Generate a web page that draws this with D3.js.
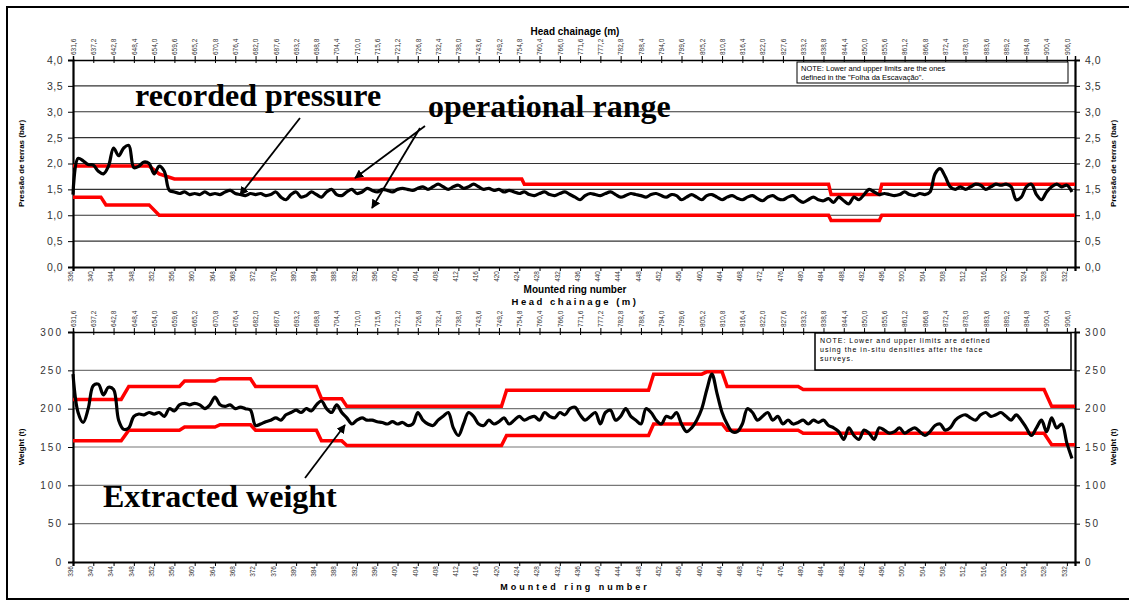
<!DOCTYPE html>
<html><head><meta charset="utf-8">
<script src="https://cdn.jsdelivr.net/npm/d3@7"></script>
<style>body{margin:0;background:#fff}svg{display:block}</style>
</head><body>
<script>
// ---------- DATA ----------
const ringTicks = [336,340,344,348,352,356,360,364,368,372,376,380,384,388,392,396,400,404,408,412,416,420,424,428,432,436,440,444,448,452,456,460,464,468,472,476,480,484,488,492,496,500,504,508,512,516,520,524,528,532];
const chainageTicks = ["631,6","637,2","642,8","648,4","654,0","659,6","665,2","670,8","676,4","682,0","687,6","693,2","698,8","704,4","710,0","715,6","721,2","726,8","732,4","738,0","743,6","749,2","754,8","760,4","766,0","771,6","777,2","782,8","788,4","794,0","799,6","805,2","810,8","816,4","822,0","827,6","833,2","838,8","844,4","850,0","855,6","861,2","866,8","872,4","878,0","883,6","889,2","894,8","900,4","906,0"];
const pressureTicks = [0,0.5,1,1.5,2,2.5,3,3.5,4];
const weightTicks = [0,50,100,150,200,250,300];

const pressureRings = [336,337,338,339,340,341,342,343,344,345,346,347,348,349,350,351,352,353,354,355,356,357,358,359,360,361,362,363,364,365,366,367,368,369,370,371,372,373,374,375,376,377,378,379,380,381,382,383,384,385,386,387,388,389,390,391,392,393,394,395,396,397,398,399,400,401,402,403,404,405,406,407,408,409,410,411,412,413,414,415,416,417,418,419,420,421,422,423,424,425,426,427,428,429,430,431,432,433,434,435,436,437,438,439,440,441,442,443,444,445,446,447,448,449,450,451,452,453,454,455,456,457,458,459,460,461,462,463,464,465,466,467,468,469,470,471,472,473,474,475,476,477,478,479,480,481,482,483,484,485,486,487,488,489,490,491,492,493,494,495,496,497,498,499,500,501,502,503,504,505,506,507,508,509,510,511,512,513,514,515,516,517,518,519,520,521,522,523,524,525,526,527,528,529,530,531,532,533];
const pressureValues = [1.40,2.10,2.05,1.98,1.97,1.85,1.80,1.95,2.30,2.15,2.30,2.35,1.92,1.95,2.03,2.00,1.80,1.95,1.85,1.48,1.45,1.42,1.45,1.40,1.42,1.40,1.45,1.40,1.42,1.40,1.45,1.48,1.42,1.40,1.38,1.42,1.40,1.42,1.38,1.40,1.45,1.35,1.30,1.40,1.45,1.35,1.38,1.45,1.40,1.35,1.45,1.50,1.40,1.38,1.45,1.50,1.42,1.45,1.52,1.48,1.45,1.50,1.48,1.45,1.50,1.52,1.50,1.48,1.52,1.55,1.50,1.55,1.60,1.55,1.50,1.55,1.58,1.52,1.55,1.60,1.55,1.50,1.52,1.48,1.50,1.45,1.48,1.45,1.42,1.45,1.40,1.38,1.42,1.45,1.40,1.38,1.42,1.45,1.40,1.35,1.30,1.38,1.42,1.40,1.38,1.42,1.45,1.40,1.35,1.38,1.42,1.40,1.38,1.35,1.40,1.42,1.38,1.35,1.40,1.38,1.30,1.35,1.40,1.35,1.30,1.38,1.40,1.35,1.30,1.35,1.38,1.33,1.30,1.35,1.38,1.32,1.28,1.35,1.38,1.32,1.30,1.35,1.38,1.30,1.25,1.30,1.35,1.30,1.28,1.32,1.25,1.35,1.28,1.22,1.35,1.30,1.40,1.50,1.45,1.40,1.42,1.40,1.38,1.40,1.45,1.40,1.38,1.42,1.40,1.45,1.80,1.90,1.75,1.55,1.50,1.55,1.50,1.55,1.60,1.58,1.50,1.55,1.60,1.58,1.60,1.55,1.30,1.35,1.55,1.60,1.40,1.30,1.45,1.55,1.60,1.55,1.58,1.45];

const pUpperRings = [336,351,353,356,424.5,425,485,485.5,495,495.5,533.6];
const pUpperValues = [1.95,1.95,1.80,1.70,1.70,1.60,1.60,1.40,1.40,1.60,1.60];
const pLowerRings = [336,341.5,342.5,351,353,485,485.5,495,495.5,533.6];
const pLowerValues = [1.35,1.35,1.20,1.20,1.00,1.00,0.90,0.90,1.00,1.00];

const weightRings = pressureRings;
const weightValues = [245,195,182,200,230,232,218,228,225,185,173,175,190,193,192,195,193,195,190,200,197,205,207,205,207,205,200,205,215,205,203,205,200,202,200,198,178,180,183,185,188,185,192,195,198,195,200,197,205,210,200,195,205,195,188,180,185,188,185,185,183,182,180,183,180,182,178,180,195,185,180,178,185,190,195,175,165,180,195,190,180,178,185,180,183,188,180,185,190,185,188,190,185,195,190,188,195,192,200,202,192,185,190,195,180,195,198,185,190,200,190,185,180,200,195,185,180,190,188,195,180,170,175,185,200,225,245,220,195,180,170,170,180,200,195,185,190,195,185,190,180,185,180,182,185,180,185,182,185,178,175,170,160,175,165,160,172,168,160,175,172,168,170,175,168,172,175,170,165,170,178,180,172,175,185,190,192,188,185,192,195,190,192,195,190,185,192,185,175,165,175,185,170,188,175,180,155,135];

const wUpperRings = [336,345.5,347,357,358,364,365,371,372,384,385,389,390,420.5,421.5,449.5,450.5,460,461,464,465,479,480,527.5,529,533.6];
const wUpperValues = [212,212,229,229,236,236,239,239,229,229,213,213,203,203,224,224,245,245,248,248,229,229,225,225,203,203];
const wLowerRings = [336,345.5,347,357,358,364,365,371,372,384,385,389,390,420.5,421.5,449.5,450.5,464,465,479,480,527.5,529,533.6];
const wLowerValues = [158,158,172,172,176,176,179,179,172,172,158,158,152,152,165,165,180,180,172,172,168,168,153,153];

// ---------- DRAW ----------
const W = 1129, H = 605;
const svg = d3.select("body").append("svg").attr("width", W).attr("height", H);
const FONT = "Liberation Sans, Arial, sans-serif";

// outer frame
svg.append("rect").attr("x",7).attr("y",7).attr("width",W+20).attr("height",592)
  .attr("fill","none").attr("stroke","#000").attr("stroke-width",2);

const x = d3.scaleLinear().domain([336,533.6]).range([73,1075]);

function panel(cfg){
  const g = svg.append("g");
  const y = d3.scaleLinear().domain(cfg.domain).range([cfg.y0, cfg.y1]);
  // gridlines
  g.selectAll(".grid").data(cfg.yticks.slice(1,-1)).enter().append("line")
    .attr("x1",73).attr("x2",1075).attr("y1",d=>y(d)).attr("y2",d=>y(d))
    .attr("stroke",cfg.gridColor).attr("stroke-width",1.2);
  // axes
  const left = d3.axisLeft(y).tickValues(cfg.yticks).tickSize(5).tickFormat(cfg.yfmt);
  const right = d3.axisRight(y).tickValues(cfg.yticks).tickSize(5).tickFormat(cfg.yfmt);
  const gl = g.append("g").attr("transform","translate(73,0)").call(left);
  const gr = g.append("g").attr("transform","translate(1075,0)").call(right);
  [gl,gr].forEach(a=>{
    a.select(".domain").attr("stroke","#000").attr("stroke-width",2.2);
    a.selectAll(".tick line").attr("stroke","#000");
    a.selectAll("text").attr("font-family",FONT).attr("font-size",cfg.yfs).attr("fill","#333")
      .attr("letter-spacing",cfg.ls);
  });
  gl.selectAll("text").attr("x",-10);
  gr.selectAll("text").attr("x",10);
  const bottom = d3.axisBottom(x).tickValues(ringTicks).tickSize(4).tickFormat(d=>d);
  const gb = g.append("g").attr("transform",`translate(0,${cfg.y0})`).call(bottom);
  gb.select(".domain").attr("stroke","#000").attr("stroke-width",2.2);
  gb.selectAll("text").attr("font-family",FONT).attr("font-size",6.5).attr("fill","#333")
    .attr("text-anchor","end").attr("transform","rotate(-90)").attr("x",-4).attr("y",-3).attr("dy","0.35em");
  const top = d3.axisTop(x).tickValues(ringTicks).tickSize(4).tickFormat((d,i)=>chainageTicks[i]);
  const gt = g.append("g").attr("transform",`translate(0,${cfg.y1})`).call(top);
  gt.select(".domain").attr("stroke","#000").attr("stroke-width",1.5);
  gt.selectAll(".tick line").attr("y2",3).attr("y1",-4);
  gt.selectAll("text").attr("font-family",FONT).attr("font-size",6.5).attr("fill","#333")
    .attr("text-anchor","start").attr("transform","rotate(-90)").attr("x",5).attr("y",0).attr("dy","0.35em");
  const line = d3.line().x(d=>x(d[0])).y(d=>y(d[1]));
  const curved = d3.line().x(d=>x(d[0])).y(d=>y(d[1])).curve(d3.curveCatmullRom.alpha(0.5));
  g.append("path").datum(d3.zip(cfg.upR,cfg.upV)).attr("d",line).attr("fill","none").attr("stroke","#ff0000").attr("stroke-width",3.5);
  g.append("path").datum(d3.zip(cfg.loR,cfg.loV)).attr("d",line).attr("fill","none").attr("stroke","#ff0000").attr("stroke-width",3.5);
  g.append("path").datum(d3.zip(cfg.rings,cfg.vals)).attr("d",curved).attr("fill","none").attr("stroke","#000").attr("stroke-width",3.2).attr("stroke-linejoin","round");
  // y titles
  g.append("text").attr("transform",`translate(${cfg.ytx},${(cfg.y0+cfg.y1)/2}) rotate(-90)`).attr("text-anchor","middle")
    .attr("font-family",FONT).attr("font-size",8).attr("font-weight","bold").text(cfg.ytitle);
  g.append("text").attr("transform",`translate(${cfg.ytxR},${(cfg.y0+cfg.y1)/2}) rotate(-90)`).attr("text-anchor","middle")
    .attr("font-family",FONT).attr("font-size",8).attr("font-weight","bold").text(cfg.ytitle);
  return {g,y};
}

const P = panel({domain:[0,4], y0:267, y1:60, yticks:pressureTicks, yfmt:d=>d3.format(".1f")(d).replace(".",","), yfs:10.5, ls:"0.5px",
  gridColor:"#333", rings:pressureRings, vals:pressureValues, upR:pUpperRings, upV:pUpperValues, loR:pLowerRings, loV:pLowerValues,
  ytx:24, ytxR:1116, ytitle:"Pressão de terras (bar)"});

const Wt = panel({domain:[0,300], y0:562, y1:332, yticks:weightTicks, yfmt:d=>d, yfs:10, ls:"2px",
  gridColor:"#777", rings:weightRings, vals:weightValues, upR:wUpperRings, upV:wUpperValues, loR:wLowerRings, loV:wLowerValues,
  ytx:24, ytxR:1116, ytitle:"Weight (t)"});

// axis titles
function txt(xp,yp,s,opt){
  const t = svg.append("text").attr("x",xp).attr("y",yp).attr("font-family",opt.ff||FONT).attr("font-size",opt.fs||9)
    .attr("font-weight",opt.fw||"bold").attr("text-anchor",opt.anchor||"middle").attr("letter-spacing",opt.ls||0).text(s);
  return t;
}
txt(575,35,"Head chainage (m)",{fs:10});
txt(575,293,"Mounted ring number",{fs:10});
txt(575,305,"Head chainage (m)",{fs:9.5,ls:"2.5px"});
txt(575,590,"Mounted ring number",{fs:9,ls:"3px"});

// notes
svg.append("rect").attr("x",797).attr("y",62).attr("width",271).attr("height",21).attr("fill","#fff").attr("stroke","#000");
txt(801,71,"NOTE: Lower and upper limits are the ones",{fs:7.5,fw:"normal",anchor:"start"});
txt(801,80,"defined in the \"Folha da Escavação\".",{fs:7.5,fw:"normal",anchor:"start"});
svg.append("rect").attr("x",815).attr("y",333).attr("width",256).attr("height",37).attr("fill","#fff").attr("stroke","#000").attr("stroke-width",1.5);
txt(820,343,"NOTE: Lower and upper limits are defined",{fs:7,fw:"normal",anchor:"start",ls:"1px"});
txt(820,352,"using the in-situ densities after the face",{fs:7,fw:"normal",anchor:"start",ls:"1px"});
txt(820,361,"surveys.",{fs:7,fw:"normal",anchor:"start",ls:"1px"});

// annotations
const SERIF = "Liberation Serif, Times New Roman, serif";
txt(135,106,"recorded pressure",{ff:SERIF,fs:32,anchor:"start"});
txt(428,117,"operational range",{ff:SERIF,fs:32,anchor:"start"});
txt(103,507,"Extracted weight",{ff:SERIF,fs:32,anchor:"start"});
const defs = svg.append("defs");
defs.append("marker").attr("id","ah").attr("viewBox","0 0 10 10").attr("refX",9).attr("refY",5)
  .attr("markerWidth",5).attr("markerHeight",5).attr("orient","auto")
  .append("path").attr("d","M0,0 L10,5 L0,10 z").attr("fill","#000");
function arrow(x1,y1,x2,y2){
  svg.append("line").attr("x1",x1).attr("y1",y1).attr("x2",x2).attr("y2",y2).attr("stroke","#000").attr("stroke-width",1.8).attr("marker-end","url(#ah)");
}
arrow(300,118,240,195);
arrow(425,126,355,178);
arrow(420,128,372,208);
arrow(305,478,345,425);
</script>
</body></html>
